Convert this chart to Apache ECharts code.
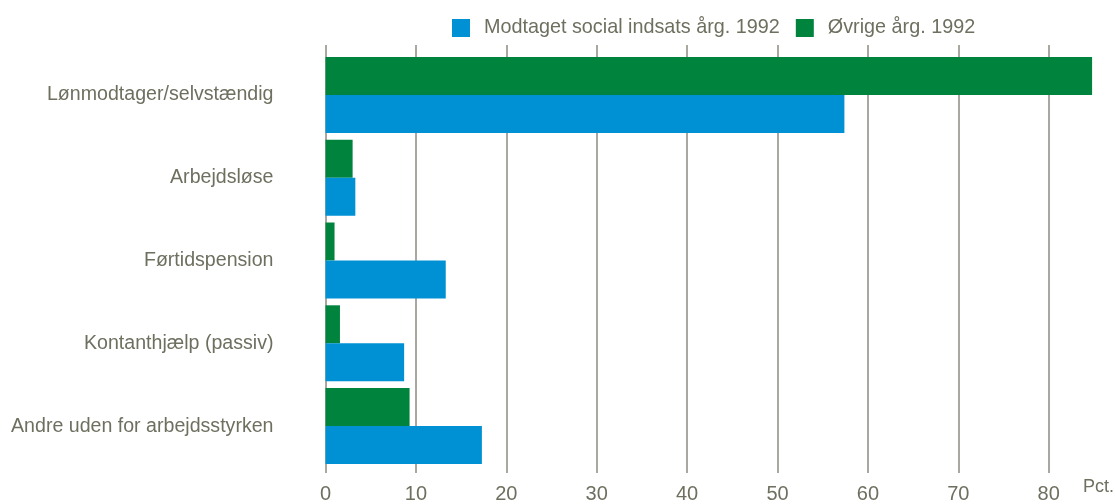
<!DOCTYPE html>
<html>
<head>
<meta charset="utf-8">
<script src="https://cdn.jsdelivr.net/npm/echarts@6/dist/echarts.min.js"></script>
<style>
html,body{margin:0;padding:0;background:#fff;}
#chart{width:1115px;height:504px;}
</style>
</head>
<body>
<div id="chart"></div>
<script>
const categories = ["Lønmodtager/selvstændig", "Arbejdsløse", "Førtidspension", "Kontanthjælp (passiv)", "Andre uden for arbejdsstyrken"];
const socialIndsats = [57.4, 3.3, 13.3, 8.7, 17.3];
const oevrige = [84.8, 3.0, 1.0, 1.6, 9.3];
const seriesNames = ["Modtaget social indsats årg. 1992", "Øvrige årg. 1992"];
const xTicks = [0, 10, 20, 30, 40, 50, 60, 70, 80];

const textColor = '#6f6f60';
const chart = echarts.init(document.getElementById('chart'), null, {renderer: 'canvas'});
chart.setOption({
  animation: false,
  backgroundColor: '#ffffff',
  textStyle: {fontFamily: 'Liberation Sans, Arial, sans-serif'},
  legend: {
    left: 447, top: 13,
    itemWidth: 18, itemHeight: 18, itemGap: 16,
    icon: 'rect',
    textStyle: {color: textColor, fontSize: 19.8, padding: [0, 0, 0, 9]},
    data: seriesNames
  },
  grid: [
    {left: 325.5, right: 21.1, top: 53.5, bottom: 36.5},
    {left: 325.5, right: 66.3, top: 45, bottom: 28}
  ],
  xAxis: [
    {gridIndex: 0, type: 'value', min: 0, max: 85, show: false},
    {gridIndex: 1, type: 'value', min: xTicks[0], max: xTicks[xTicks.length - 1], interval: 10,
     axisLine: {show: false}, axisTick: {show: false},
     splitLine: {show: true, lineStyle: {color: '#8b8b80', width: 1.5}},
     axisLabel: {color: textColor, fontSize: 20, fontFamily: 'Liberation Sans Narrow, Arial Narrow, sans-serif', margin: 11}}
  ],
  yAxis: [
    {gridIndex: 0, type: 'category', data: categories, inverse: true,
     axisLine: {show: false}, axisTick: {show: false}, splitLine: {show: false},
     axisLabel: {color: textColor, fontSize: 19.6, margin: 52, padding: [4, 0, 0, 0]}},
    {gridIndex: 1, type: 'value', min: 0, max: 1, show: false}
  ],
  graphic: [{
    type: 'text', left: 1083, top: 478,
    style: {text: 'Pct.', fill: textColor, fontSize: 18, fontFamily: 'Liberation Sans, Arial, sans-serif'}
  }],
  series: [
    {name: seriesNames[1], type: 'bar', xAxisIndex: 0, yAxisIndex: 0, data: oevrige,
     barWidth: 38, barGap: '0%', itemStyle: {color: '#00843d'}, z: 3},
    {name: seriesNames[0], type: 'bar', xAxisIndex: 0, yAxisIndex: 0, data: socialIndsats,
     barWidth: 38, barGap: '0%', itemStyle: {color: '#0091d5'}, z: 3}
  ]
});
</script>
</body>
</html>
